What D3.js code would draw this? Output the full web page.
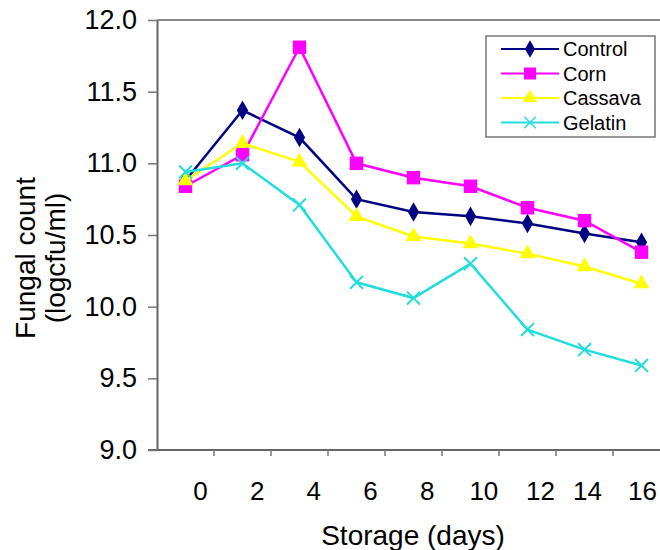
<!DOCTYPE html>
<html>
<head>
<meta charset="utf-8">
<script src="https://cdn.jsdelivr.net/npm/d3@7"></script>
<style>
  body { margin: 0; background: #fff; }
  text { font-family: "Liberation Sans", Arial, sans-serif; fill: #000; }
</style>
</head>
<body>
<svg id="chart"></svg>
<script>
// sampling points (one per category, like the spreadsheet chart)
const days = ["0", "2", "4", "6", "8", "10", "12", "14", "16"];
const dayTicks = [0, 2, 4, 6, 8, 10, 12, 14, 16];
const yTicks = [9.0, 9.5, 10.0, 10.5, 11.0, 11.5, 12.0];

const control = [10.88, 11.37, 11.18, 10.75, 10.66, 10.63, 10.58, 10.51, 10.45];
const corn    = [10.84, 11.06, 11.81, 11.00, 10.90, 10.84, 10.69, 10.60, 10.38];
const cassava = [10.88, 11.14, 11.01, 10.63, 10.49, 10.44, 10.37, 10.28, 10.16];
const gelatin = [10.94, 11.00, 10.71, 10.17, 10.06, 10.30, 9.84, 9.70, 9.59];

const seriesNames = ["Control", "Corn", "Cassava", "Gelatin"];

const series = [
  {name: seriesNames[0], values: control, color: "#000080", symbol: d3.symbolDiamond, size: 110, fill: true},
  {name: seriesNames[1], values: corn, color: "#ff00ff", symbol: d3.symbolSquare, size: 180, fill: true},
  {name: seriesNames[2], values: cassava, color: "#ffff00", symbol: d3.symbolTriangle, size: 110, fill: true},
  {name: seriesNames[3], values: gelatin, color: "#22dddd", symbol: d3.symbolX, size: 110, fill: false}
];

const width = 660, height = 550;
const margin = {top: 20, right: -10, bottom: 100, left: 157};

const svg = d3.select("#chart")
    .attr("width", width)
    .attr("height", height);

// categories as bands, points sit in the middle of each band
const x = d3.scaleBand()
    .domain(days)
    .range([margin.left, width - margin.right]);

// tick labels are not centred on the points in the original, so they get their own scale
const xLabel = d3.scaleLinear()
    .domain([0, 12, 14, 16])
    .range([200, 540, 587, 642]);

const y = d3.scaleLinear()
    .domain([9, 12])
    .range([height - margin.bottom, margin.top]);

const px = (d, i) => x(days[i]) + x.bandwidth() / 2;

// top border of the plot area
svg.append("line")
    .attr("x1", margin.left)
    .attr("x2", width)
    .attr("y1", y(12))
    .attr("y2", y(12))
    .attr("stroke", "#888")
    .attr("stroke-width", 2);

// x axis: line with tick marks at band edges
const xAxisG = svg.append("g")
    .attr("transform", `translate(0,${y(9)})`);

xAxisG.append("line")
    .attr("x1", margin.left - 9)
    .attr("x2", width)
    .attr("stroke", "#666")
    .attr("stroke-width", 2);

xAxisG.selectAll(".xtick")
    .data(days.slice(1))
    .join("line")
    .attr("class", "xtick")
    .attr("x1", d => x(d))
    .attr("x2", d => x(d))
    .attr("y1", 0)
    .attr("y2", 6)
    .attr("stroke", "#777")
    .attr("stroke-width", 1.5);

svg.append("g")
    .attr("transform", `translate(0,500)`)
    .call(d3.axisBottom(xLabel).tickValues(dayTicks).tickSize(0).tickPadding(0))
    .call(g => g.select(".domain").remove())
    .selectAll("text")
    .attr("y", 0)
    .attr("dy", 0)
    .style("font-size", "26px")
    .style("font-family", "Liberation Sans, Arial, sans-serif");

// y axis
svg.append("g")
    .attr("transform", `translate(${margin.left},0)`)
    .call(d3.axisLeft(y).tickValues(yTicks).tickFormat(d3.format(".1f")).tickSize(9).tickSizeOuter(0).tickPadding(11))
    .call(g => g.select(".domain").attr("stroke", "#666").attr("stroke-width", 2))
    .call(g => g.selectAll(".tick line").attr("stroke", "#777").attr("stroke-width", 1.5))
    .selectAll("text")
    .style("font-size", "27px")
    .style("font-family", "Liberation Sans, Arial, sans-serif");

// axis titles
svg.append("text")
    .attr("x", 413)
    .attr("y", 545)
    .attr("text-anchor", "middle")
    .style("font-size", "28px")
    .text("Storage (days)");

const yTitle = svg.append("text")
    .attr("transform", "translate(35,258) rotate(-90)")
    .attr("text-anchor", "middle")
    .style("font-size", "28px");
yTitle.append("tspan").attr("x", 0).attr("y", 0).text("Fungal count");
yTitle.append("tspan").attr("x", 0).attr("y", 30).text("(logcfu/ml)");

// lines and markers
const line = d3.line()
    .x(px)
    .y(d => y(d));

const groups = svg.selectAll(".series")
    .data(series)
    .join("g")
    .attr("class", "series");

groups.append("path")
    .attr("fill", "none")
    .attr("stroke", d => d.color)
    .attr("stroke-width", 2.5)
    .attr("d", d => line(d.values));

groups.each(function(s) {
  d3.select(this).selectAll(".pt")
      .data(s.values)
      .join("path")
      .attr("class", "pt")
      .attr("transform", (d, i) => `translate(${px(d, i)},${y(d)})`)
      .attr("d", d3.symbol().type(s.symbol).size(s.size))
      .attr("fill", s.fill ? s.color : "none")
      .attr("stroke", s.color)
      .attr("stroke-width", s.fill ? 0 : 2);
});

// legend
const legend = svg.append("g")
    .attr("transform", "translate(486,36)");

legend.append("rect")
    .attr("width", 169)
    .attr("height", 101)
    .attr("fill", "#fff")
    .attr("stroke", "#777")
    .attr("stroke-width", 1.5);

const items = legend.selectAll(".item")
    .data(series)
    .join("g")
    .attr("class", "item")
    .attr("transform", (d, i) => `translate(0,${13 + i * 24.5})`);

items.append("line")
    .attr("x1", 15)
    .attr("x2", 73)
    .attr("stroke", d => d.color)
    .attr("stroke-width", 2);

items.append("path")
    .attr("transform", "translate(44,0)")
    .attr("d", d => d3.symbol().type(d.symbol).size(d.size * 0.8)())
    .attr("fill", d => d.fill ? d.color : "none")
    .attr("stroke", d => d.color)
    .attr("stroke-width", d => d.fill ? 0 : 1.5);

items.append("text")
    .attr("x", 77)
    .attr("dy", "0.35em")
    .style("font-size", "20px")
    .text(d => d.name);
</script>
</body>
</html>
